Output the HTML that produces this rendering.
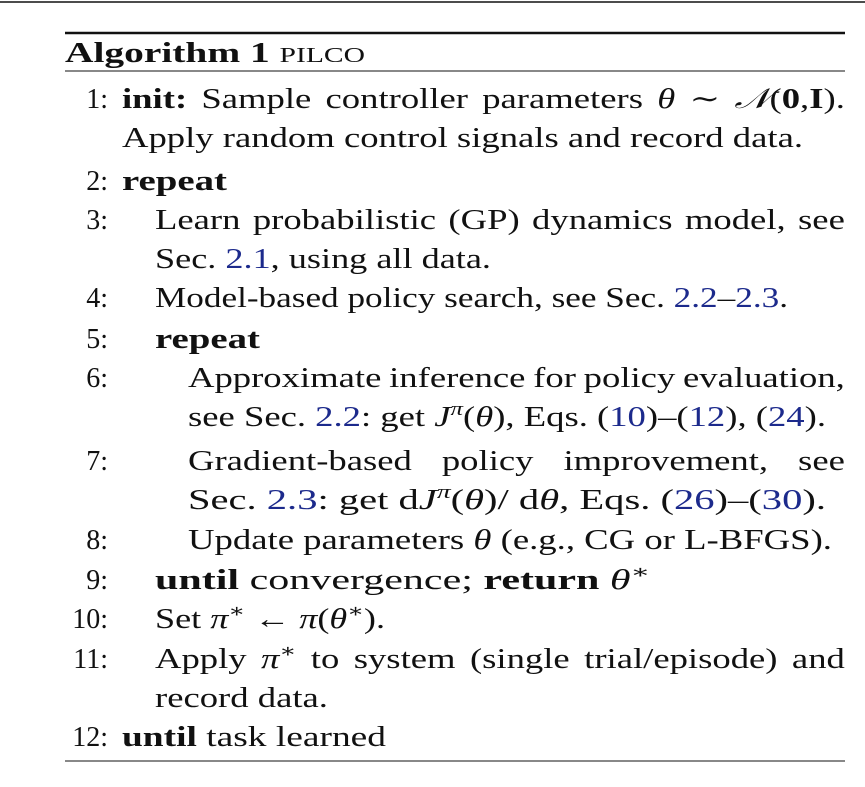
<!DOCTYPE html>
<html><head><meta charset="utf-8">
<style>
html,body{margin:0;padding:0;background:#fff;}
svg{display:block;}
text{font-family:"Liberation Serif","DejaVu Serif",serif;font-size:28px;fill:#111;}
.b{font-weight:bold;}
.i{font-style:italic;}
.l{fill:#1c2a8c;}
.sc{font-size:21px;}
</style></head>
<body>
<svg id="alg" width="865" height="787" viewBox="0 0 865 787">
<line x1="0" y1="2" x2="865" y2="2" stroke="#111" stroke-width="1.5"/>
<line x1="65" y1="33" x2="845" y2="33" stroke="#111" stroke-width="2.5"/>
<text x="65" y="62" textLength="300" lengthAdjust="spacingAndGlyphs"><tspan class="b">Algorithm 1</tspan> <tspan class="sc">PILCO</tspan></text>
<line x1="65" y1="71" x2="845" y2="71" stroke="#111" stroke-width="1"/>

<g text-anchor="end">
<text x="108" y="108">1:</text>
<text x="108" y="190">2:</text>
<text x="108" y="229">3:</text>
<text x="108" y="307">4:</text>
<text x="108" y="348">5:</text>
<text x="108" y="387">6:</text>
<text x="108" y="470">7:</text>
<text x="108" y="549">8:</text>
<text x="108" y="589">9:</text>
<text x="108" y="628">10:</text>
<text x="108" y="668">11:</text>
<text x="108" y="746">12:</text>
</g>

<text class="just" data-w="723" x="122" y="108"><tspan class="b">init:</tspan> Sample controller parameters <tspan class="i">θ</tspan> ∼ <tspan class="i">𝒩</tspan>(<tspan class="b">0</tspan>,<tspan class="b">I</tspan>).</text>
<text id="ref" x="122" y="147" textLength="681" lengthAdjust="spacingAndGlyphs">Apply random control signals and record data.</text>
<text x="122" y="190" textLength="105" lengthAdjust="spacingAndGlyphs" class="b">repeat</text>
<text class="just" data-w="690" x="155" y="229">Learn probabilistic (GP) dynamics model, see</text>
<text x="155" y="268" textLength="336" lengthAdjust="spacingAndGlyphs">Sec. <tspan class="l">2.1</tspan>, using all data.</text>
<text x="155" y="307" textLength="633" lengthAdjust="spacingAndGlyphs">Model-based policy search, see Sec. <tspan class="l">2.2</tspan>–<tspan class="l">2.3</tspan>.</text>
<text x="155" y="348" textLength="105" lengthAdjust="spacingAndGlyphs" class="b">repeat</text>
<text class="just" data-w="657" x="188" y="387">Approximate inference for policy evaluation,</text>
<text x="188" y="426" textLength="638" lengthAdjust="spacingAndGlyphs">see Sec. <tspan class="l">2.2</tspan>: get <tspan class="i">J</tspan><tspan class="i" font-size="19" dy="-11">π</tspan><tspan dy="11">(</tspan><tspan class="i">θ</tspan>), Eqs. (<tspan class="l">10</tspan>)–(<tspan class="l">12</tspan>), (<tspan class="l">24</tspan>).</text>
<text class="just" data-w="657" x="188" y="470">Gradient-based policy improvement, see</text>
<text x="188" y="509" textLength="638" lengthAdjust="spacingAndGlyphs">Sec. <tspan class="l">2.3</tspan>: get d<tspan class="i">J</tspan><tspan class="i" font-size="19" dy="-11">π</tspan><tspan dy="11">(</tspan><tspan class="i">θ</tspan>)/ d<tspan class="i">θ</tspan>, Eqs. (<tspan class="l">26</tspan>)–(<tspan class="l">30</tspan>).</text>
<text x="188" y="549" textLength="644" lengthAdjust="spacingAndGlyphs">Update parameters <tspan class="i">θ</tspan> (e.g., CG or L-BFGS).</text>
<text x="155" y="589" textLength="495" lengthAdjust="spacingAndGlyphs"><tspan class="b">until</tspan> convergence; <tspan class="b">return</tspan> <tspan class="i">θ</tspan><tspan font-size="19" dy="-11">∗</tspan></text>
<text x="155" y="628" textLength="230" lengthAdjust="spacingAndGlyphs">Set <tspan class="i">π</tspan><tspan font-size="19" dy="-11">∗</tspan><tspan dy="11"> ← </tspan><tspan class="i">π</tspan>(<tspan class="i">θ</tspan><tspan font-size="19" dy="-11">∗</tspan><tspan dy="11">).</tspan></text>
<text class="just" data-w="690" x="155" y="668">Apply <tspan class="i">π</tspan><tspan font-size="19" dy="-11">∗</tspan><tspan dy="11"> to system (single trial/episode) and</tspan></text>
<text class="scaled" x="155" y="707">record data.</text>
<text x="122" y="746" textLength="264" lengthAdjust="spacingAndGlyphs"><tspan class="b">until</tspan> task learned</text>

<line x1="65" y1="761" x2="845" y2="761" stroke="#111" stroke-width="1"/>
</svg>
<script>
(function(){
  var ref = document.getElementById('ref');
  ref.removeAttribute('textLength');
  var nat = ref.getComputedTextLength();
  ref.setAttribute('textLength', '681');
  var s = nat > 0 ? 681 / nat : 1.15;
  var els = document.querySelectorAll('text.just');
  for (var k = 0; k < els.length; k++) {
    var el = els[k];
    var T = parseFloat(el.getAttribute('data-w'));
    var x0 = parseFloat(el.getAttribute('x'));
    var w = el.getComputedTextLength();
    var n = (el.textContent.match(/ /g) || []).length;
    var ws = n ? (T / s - w) / n : 0;
    el.style.wordSpacing = ws + 'px';
    el.setAttribute('transform', 'translate(' + x0 + ',0) scale(' + s + ',1) translate(' + (-x0) + ',0)');
  }
  var sc = document.querySelectorAll('text.scaled');
  for (var j = 0; j < sc.length; j++) {
    var x1 = parseFloat(sc[j].getAttribute('x'));
    sc[j].setAttribute('transform', 'translate(' + x1 + ',0) scale(' + s + ',1) translate(' + (-x1) + ',0)');
  }
})();
</script>
</body></html>
